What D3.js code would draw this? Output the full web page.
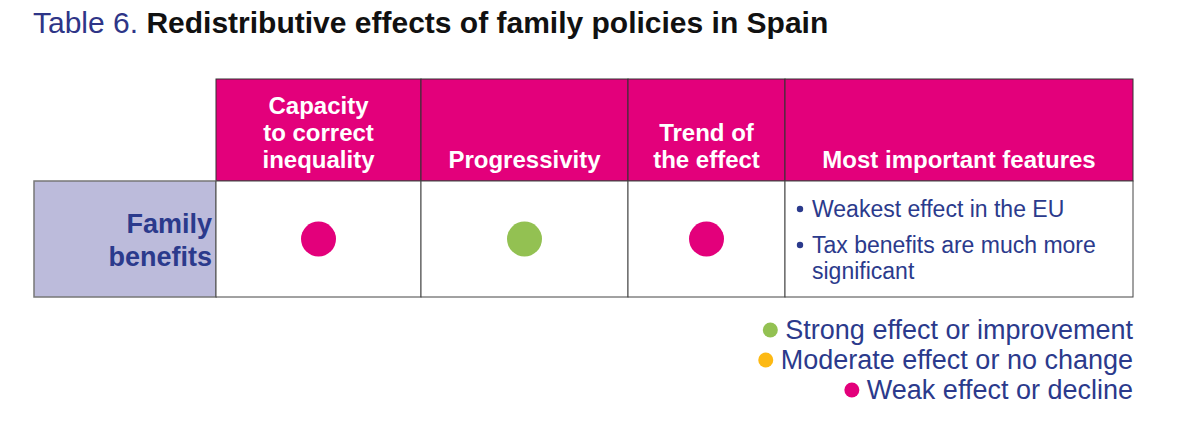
<!DOCTYPE html>
<html>
<head>
<meta charset="utf-8">
<script src="https://cdn.jsdelivr.net/npm/d3@7"></script>
<style>
  body { margin: 0; background: #fff; }
  svg text { font-family: "Liberation Sans Narrow", "Arial Narrow", "Liberation Sans", sans-serif; }
</style>
</head>
<body>
<script>
// data
var columns = ["capacity", "progressivity", "trend", "features"];
var columnLabels = [["Capacity", "to correct", "inequality"], ["Progressivity"], ["Trend of", "the effect"], ["Most important features"]];
var rowLabels = [["Family", "benefits"]];
var ratings = [["weak", "strong", "weak"]];
var features = [[["Weakest effect in the EU"], ["Tax benefits are much more", "significant"]]];
var legendKeys = ["strong", "moderate", "weak"];
var legendLabels = ["Strong effect or improvement", "Moderate effect or no change", "Weak effect or decline"];

var width = 1199;
var height = 424;
var navy = "#2b3a8c";
var magenta = "#e3007b";

var colEdges = [216, 421, 628, 785, 1133];
var labelLeft = 34;
var headTop = 79;
var headBottom = 181;
var rowH = 116;

var svg = d3.select("body").append("svg")
  .attr("width", width)
  .attr("height", height);

// title
var title = svg.append("text")
  .attr("x", 33)
  .attr("y", 33)
  .attr("font-size", 30);
title.append("tspan").attr("fill", "#2e3587").text("Table 6. ");
title.append("tspan").attr("fill", "#111").attr("font-weight", "bold").text("Redistributive effects of family policies in Spain");

var x = d3.scaleOrdinal().domain(columns).range(colEdges.slice(0, 4));
var w = d3.scaleOrdinal().domain(columns).range(d3.pairs(colEdges).map(function(p){ return p[1] - p[0]; }));
var y = d3.scaleBand().domain(d3.range(rowLabels.length)).range([headBottom, headBottom + rowH * rowLabels.length]);
var color = d3.scaleOrdinal().domain(legendKeys).range(["#93c152", "#fdb913", magenta]);

// header cells
var head = svg.append("g");
head.selectAll("rect")
  .data(columns)
  .join("rect")
  .attr("x", function(d){ return x(d); })
  .attr("y", headTop)
  .attr("width", function(d){ return w(d); })
  .attr("height", headBottom - headTop)
  .attr("fill", magenta)
  .attr("stroke", "#333")
  .attr("stroke-width", 1);

head.selectAll("text")
  .data(columns)
  .join("text")
  .attr("x", function(d){ return x(d) + w(d) / 2; })
  .attr("text-anchor", "middle")
  .attr("fill", "#fff")
  .attr("font-weight", "bold")
  .attr("font-size", 24)
  .each(function(d, i){
    var lines = columnLabels[i];
    d3.select(this).selectAll("tspan")
      .data(lines)
      .join("tspan")
      .attr("x", x(d) + w(d) / 2)
      .attr("y", function(l, j){ return 168 - (lines.length - 1 - j) * 27; })
      .text(function(l){ return l; });
  });

// rows
var rows = svg.selectAll("g.row")
  .data(rowLabels)
  .join("g")
  .attr("class", "row");

rows.append("rect")
  .attr("x", labelLeft)
  .attr("y", function(d, i){ return y(i); })
  .attr("width", colEdges[0] - labelLeft)
  .attr("height", y.bandwidth())
  .attr("fill", "#bcbbdb")
  .attr("stroke", "#777")
  .attr("stroke-width", 1.5);

rows.append("text")
  .attr("text-anchor", "end")
  .attr("fill", navy)
  .attr("font-weight", "bold")
  .attr("font-size", 27)
  .each(function(d, i){
    d3.select(this).selectAll("tspan")
      .data(d)
      .join("tspan")
      .attr("x", colEdges[0] - 4)
      .attr("y", function(l, j){ return y(i) + 52 + j * 33; })
      .text(function(l){ return l; });
  });

rows.each(function(d, i){
  var g = d3.select(this);
  g.selectAll("rect.cell")
    .data(columns)
    .join("rect")
    .attr("class", "cell")
    .attr("x", function(c){ return x(c); })
    .attr("y", y(i))
    .attr("width", function(c){ return w(c); })
    .attr("height", y.bandwidth())
    .attr("fill", "#fff")
    .attr("stroke", "#444")
    .attr("stroke-width", 1);

  g.selectAll("circle")
    .data(ratings[i])
    .join("circle")
    .attr("cx", function(r, j){ return x(columns[j]) + w(columns[j]) / 2; })
    .attr("cy", y(i) + y.bandwidth() / 2)
    .attr("r", 17.5)
    .attr("fill", function(r){ return color(r); });

  var fx = x("features");
  var lineNo = 0;
  features[i].forEach(function(item){
    item.forEach(function(line, k){
      var ty = y(i) + 36 + lineNo * 26 + (lineNo > 0 ? 10 : 0);
      if (k === 0) {
        g.append("circle")
          .attr("cx", fx + 15)
          .attr("cy", ty - 8)
          .attr("r", 3.2)
          .attr("fill", navy);
      }
      g.append("text")
        .attr("x", fx + 27)
        .attr("y", ty)
        .attr("fill", navy)
        .attr("font-size", 23)
        .text(line);
      lineNo++;
    });
  });
});

// legend
var legend = svg.append("g").selectAll("g")
  .data(legendKeys)
  .join("g")
  .attr("transform", function(d, i){ return "translate(1133," + (339 + i * 30) + ")"; });

legend.append("text")
  .attr("text-anchor", "end")
  .attr("fill", navy)
  .attr("font-size", 27)
  .text(function(d, i){ return legendLabels[i]; });

legend.each(function(d){
  var t = d3.select(this).select("text").node();
  var tw = t.getComputedTextLength();
  d3.select(this).append("circle")
    .attr("cx", -tw - 15)
    .attr("cy", -9)
    .attr("r", 7.5)
    .attr("fill", color(d));
});
</script>
</body>
</html>
